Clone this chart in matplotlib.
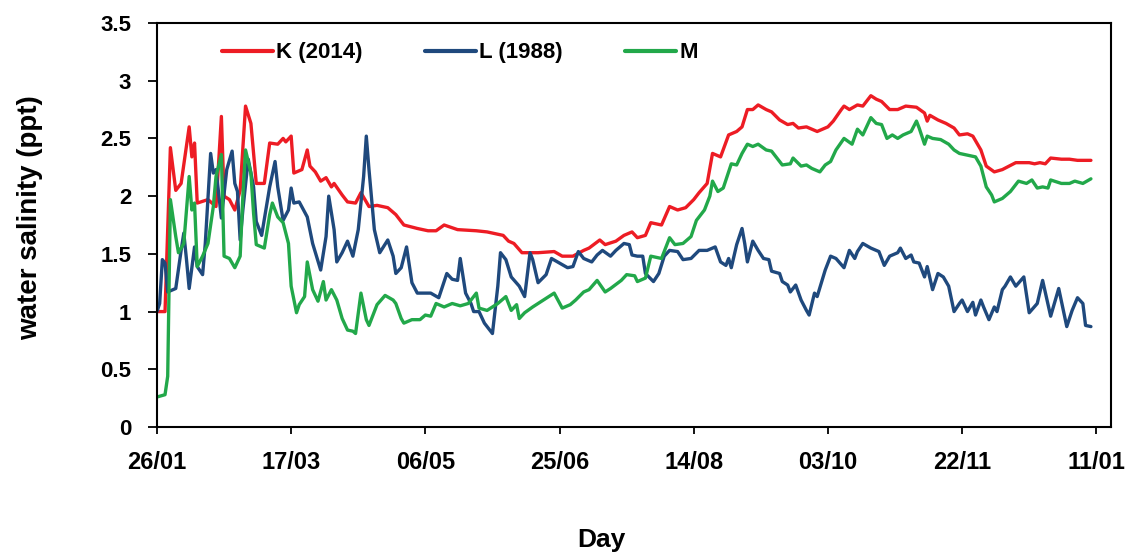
import matplotlib
matplotlib.use("Agg")
import matplotlib.pyplot as plt

# ------------------------------------------------------------
# Données : jours depuis le 26/01, salinité (ppt)
# ------------------------------------------------------------
k_jours = [0, 3, 5, 7, 9, 12, 13, 14, 15, 19, 22, 24, 25, 27, 29, 31, 33, 35, 37, 40,
           42, 45, 47, 48, 50, 51, 54, 56, 57, 59, 61, 63, 65, 66, 69, 71, 74, 76, 79, 82,
           86, 89, 92, 97, 101, 104, 107, 112, 119, 123, 129, 131, 133, 136, 142, 148, 151, 155, 159, 161,
           165, 167, 171, 174, 177, 179, 182, 184, 188, 191, 194, 197, 200, 202, 205, 207, 210, 213, 216, 218,
           220, 222, 224, 227, 229, 232, 235, 237, 239, 242, 246, 250, 252, 255, 256, 258, 261, 263, 266, 268,
           270, 273, 276, 279, 283, 286, 287, 288, 291, 294, 297, 299, 302, 304, 307, 309, 312, 315, 320, 325,
           327, 329, 331, 333, 337, 340, 343, 348]
k_sal = [1.0, 1.0, 2.42, 2.05, 2.11, 2.6, 2.34, 2.46, 1.94, 1.97, 1.91, 2.69, 2.0, 1.97, 1.88, 2.05, 2.78, 2.63, 2.11, 2.11,
         2.46, 2.45, 2.5, 2.47, 2.52, 2.2, 2.23, 2.40, 2.26, 2.21, 2.13, 2.16, 2.08, 2.11, 2.01, 1.95, 1.94, 2.03, 1.91, 1.92,
         1.9, 1.84, 1.75, 1.72, 1.70, 1.70, 1.75, 1.71, 1.70, 1.69, 1.66, 1.61, 1.59, 1.51, 1.51, 1.52, 1.48, 1.48, 1.53, 1.55,
         1.62, 1.58, 1.61, 1.66, 1.69, 1.64, 1.66, 1.77, 1.75, 1.91, 1.88, 1.90, 1.97, 2.03, 2.11, 2.37, 2.34, 2.53, 2.56, 2.60,
         2.75, 2.75, 2.79, 2.75, 2.73, 2.66, 2.62, 2.63, 2.59, 2.60, 2.56, 2.60, 2.65, 2.75, 2.78, 2.75, 2.79, 2.78, 2.87, 2.84,
         2.82, 2.75, 2.75, 2.78, 2.77, 2.72, 2.65, 2.70, 2.66, 2.63, 2.59, 2.53, 2.54, 2.52, 2.40, 2.26, 2.21, 2.23, 2.29, 2.29,
         2.28, 2.29, 2.28, 2.33, 2.32, 2.32, 2.31, 2.31]

l_jours = [0, 1, 2, 3, 4, 7, 9, 10, 11, 12, 14, 15, 17, 18, 20, 21, 22, 24, 26, 28,
           29, 30, 31, 32, 34, 36, 37, 39, 42, 44, 45, 47, 49, 50, 51, 53, 56, 58, 61, 63,
           64, 66, 67, 69, 71, 73, 75, 77, 78, 79, 81, 83, 86, 88, 89, 91, 93, 95, 97, 100,
           102, 105, 108, 110, 112, 113, 115, 117, 118, 120, 122, 125, 127, 128, 130, 132, 135, 137, 139, 140,
           142, 145, 147, 150, 153, 155, 157, 159, 162, 164, 166, 169, 171, 174, 176, 177, 179, 181, 182, 185,
           187, 189, 191, 194, 196, 199, 202, 205, 208, 210, 212, 213, 214, 216, 218, 219, 220, 222, 224, 226,
           228, 229, 232, 233, 235, 236, 238, 240, 242, 243, 245, 246, 249, 251, 253, 256, 258, 260, 261, 263,
           266, 269, 271, 273, 276, 277, 279, 281, 282, 284, 285, 286, 287, 289, 291, 293, 295, 297, 299, 300,
           302, 304, 305, 307, 308, 310, 312, 313, 315, 316, 318, 320, 323, 325, 328, 330, 333, 336, 339, 341,
           343, 345, 346, 348]
l_sal = [1.0, 1.07, 1.45, 1.42, 1.17, 1.20, 1.53, 1.68, 1.45, 1.20, 1.56, 1.39, 1.32, 1.59, 2.37, 2.20, 2.23, 1.81, 2.23, 2.39,
         2.11, 2.04, 1.62, 1.88, 2.32, 2.08, 1.78, 1.66, 2.08, 2.30, 2.08, 1.79, 1.88, 2.07, 1.94, 1.95, 1.82, 1.59, 1.36, 1.65,
         2.0, 1.71, 1.43, 1.51, 1.61, 1.48, 1.71, 2.17, 2.52, 2.23, 1.71, 1.51, 1.62, 1.48, 1.33, 1.38, 1.56, 1.25, 1.16, 1.16,
         1.16, 1.12, 1.33, 1.28, 1.27, 1.46, 1.16, 1.07, 1.0, 1.0, 0.90, 0.81, 1.22, 1.51, 1.45, 1.30, 1.22, 1.13, 1.51, 1.45,
         1.25, 1.32, 1.46, 1.42, 1.38, 1.39, 1.52, 1.46, 1.43, 1.49, 1.53, 1.48, 1.53, 1.59, 1.58, 1.49, 1.48, 1.48, 1.33, 1.26,
         1.33, 1.48, 1.53, 1.52, 1.45, 1.46, 1.53, 1.53, 1.56, 1.43, 1.40, 1.46, 1.38, 1.58, 1.72, 1.59, 1.43, 1.61, 1.53, 1.46,
         1.45, 1.35, 1.33, 1.26, 1.23, 1.17, 1.23, 1.10, 1.01, 0.97, 1.16, 1.13, 1.36, 1.48, 1.46, 1.38, 1.53, 1.46, 1.52, 1.59,
         1.55, 1.52, 1.40, 1.48, 1.51, 1.55, 1.46, 1.49, 1.43, 1.42, 1.36, 1.30, 1.39, 1.19, 1.33, 1.30, 1.22, 1.0, 1.07, 1.10,
         1.0, 1.08, 0.97, 1.10, 1.04, 0.93, 1.04, 1.0, 1.19, 1.22, 1.30, 1.22, 1.30, 0.99, 1.07, 1.27, 0.96, 1.20, 0.87, 1.01,
         1.12, 1.07, 0.88, 0.87]

m_jours = [0, 3, 4, 5, 7, 8, 10, 12, 13, 14, 15, 17, 19, 21, 22, 24, 25, 27, 29, 31,
           32, 33, 35, 36, 37, 40, 42, 43, 45, 47, 49, 50, 52, 53, 55, 56, 58, 60, 62, 63,
           65, 67, 69, 71, 73, 74, 76, 78, 79, 82, 85, 88, 89, 91, 92, 95, 98, 100, 102, 104,
           107, 110, 113, 116, 119, 120, 123, 127, 130, 132, 134, 135, 137, 140, 144, 148, 151, 154, 156, 159,
           161, 164, 167, 169, 173, 175, 178, 179, 182, 184, 188, 191, 193, 196, 199, 201, 204, 206, 207, 209,
           211, 214, 216, 218, 220, 222, 224, 227, 229, 231, 233, 236, 237, 240, 242, 244, 247, 249, 251, 253,
           256, 259, 261, 263, 265, 266, 268, 270, 272, 274, 276, 278, 281, 283, 284, 286, 287, 289, 292, 295,
           297, 299, 303, 305, 307, 309, 311, 312, 315, 318, 321, 324, 326, 328, 330, 332, 333, 337, 340, 342,
           345, 348]
m_sal = [0.26, 0.28, 0.44, 1.97, 1.65, 1.51, 1.59, 2.17, 1.88, 1.94, 1.39, 1.48, 1.59, 1.91, 2.17, 2.36, 1.48, 1.46, 1.38, 1.48,
         2.0, 2.40, 2.20, 1.85, 1.58, 1.55, 1.84, 1.94, 1.82, 1.77, 1.59, 1.22, 0.99, 1.06, 1.13, 1.43, 1.19, 1.09, 1.26, 1.10,
         1.19, 1.10, 0.94, 0.84, 0.83, 0.81, 1.16, 0.93, 0.88, 1.06, 1.14, 1.10, 1.07, 0.94, 0.90, 0.93, 0.93, 0.97, 0.96, 1.07,
         1.04, 1.07, 1.05, 1.07, 1.16, 1.03, 1.01, 1.07, 1.13, 1.01, 1.06, 0.94, 0.99, 1.04, 1.10, 1.16, 1.03, 1.06, 1.10, 1.17,
         1.19, 1.27, 1.17, 1.20, 1.27, 1.32, 1.31, 1.26, 1.29, 1.48, 1.46, 1.64, 1.58, 1.59, 1.65, 1.79, 1.88, 2.0, 2.13, 2.04,
         2.07, 2.28, 2.27, 2.37, 2.45, 2.43, 2.45, 2.40, 2.39, 2.33, 2.27, 2.28, 2.33, 2.26, 2.27, 2.24, 2.21, 2.27, 2.30, 2.40,
         2.50, 2.45, 2.58, 2.53, 2.63, 2.68, 2.63, 2.62, 2.50, 2.53, 2.50, 2.53, 2.56, 2.65, 2.59, 2.45, 2.52, 2.50, 2.49, 2.45,
         2.40, 2.37, 2.35, 2.34, 2.26, 2.08, 2.01, 1.95, 1.98, 2.04, 2.13, 2.11, 2.14, 2.07, 2.08, 2.07, 2.14, 2.11, 2.11, 2.13,
         2.11, 2.15]

tick_jours = [0, 50, 100, 150, 200, 250, 300, 350]
tick_labels = ["26/01", "17/03", "06/05", "25/06", "14/08", "03/10", "22/11", "11/01"]
y_ticks = [0, 0.5, 1, 1.5, 2, 2.5, 3, 3.5]
y_labels = ["0", "0.5", "1", "1.5", "2", "2.5", "3", "3.5"]

# ------------------------------------------------------------
# Figure
# ------------------------------------------------------------
plt.rcParams['font.family'] = ['Liberation Sans', 'DejaVu Sans']
plt.rcParams['font.weight'] = 'bold'

fig = plt.figure(figsize=(11.35, 5.59), dpi=100)
ax = fig.add_axes([0.1383, 0.2361, 0.8406, 0.7228])

ax.plot(k_jours, k_sal, color='#ed1c24', linewidth=2.4, label='K (2014)',
        solid_joinstyle='round', solid_capstyle='round')
ax.plot(l_jours, l_sal, color='#1f497d', linewidth=2.4, label='L (1988)',
        solid_joinstyle='round', solid_capstyle='round')
ax.plot(m_jours, m_sal, color='#22a84a', linewidth=2.4, label='M',
        solid_joinstyle='round', solid_capstyle='round')

ax.set_xlim(0, 355.5)
ax.set_ylim(0, 3.5)
ax.set_xticks(tick_jours)
ax.set_xticklabels(tick_labels, fontsize=17, fontweight='bold')
ax.set_yticks(y_ticks)
ax.set_yticklabels(y_labels, fontsize=16, fontweight='bold')
ax.tick_params(axis='x', direction='out', length=5, width=1.3, pad=12)
ax.tick_params(axis='y', direction='out', length=6.5, width=1.3, pad=12)

for sp in ax.spines.values():
    sp.set_linewidth(1.5)
    sp.set_color('black')

# titres des axes, placés sur la figure
fig.text(30 / 1135, 1 - 218 / 559, "water salinity (ppt)", rotation=90,
         ha='center', va='center', fontsize=20, fontweight='bold')
fig.text(601 / 1135, 1 - 540 / 559, "Day", ha='center', va='center',
         fontsize=19, fontweight='bold')

leg = ax.legend(loc='center left', bbox_to_anchor=(0.068, 0.926), ncol=3, frameon=False,
                borderpad=0, borderaxespad=0,
                handlelength=2.3, columnspacing=2.8, handletextpad=0.15,
                prop={'weight': 'bold', 'size': 16})
for line in leg.get_lines():
    line.set_linewidth(3)

fig.savefig('out.png', dpi=100)
